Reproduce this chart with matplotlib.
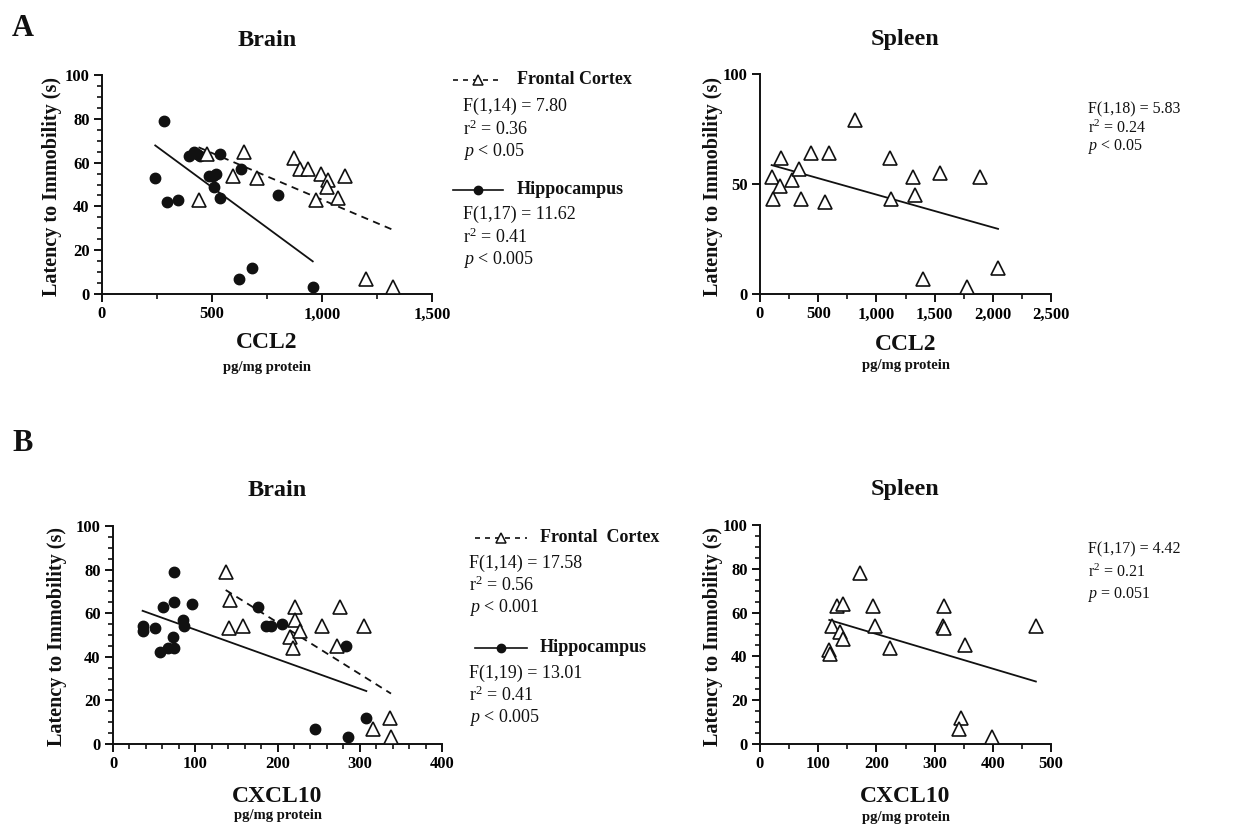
import matplotlib.pyplot as plt
import numpy as np
from matplotlib.lines import Line2D
from matplotlib.ticker import MultipleLocator, StrMethodFormatter

plt.rcParams.update({
    "font.family": "serif",
    "font.serif": ["Liberation Serif", "DejaVu Serif"],
    "mathtext.fontset": "custom",
    "mathtext.rm": "Liberation Serif",
    "mathtext.it": "Liberation Serif:italic",
    "mathtext.bf": "Liberation Serif:bold",
    "axes.linewidth": 1.4,
})

W, H = 1252, 826
INK = "#111111"

# CCL2, brain (A)
ccl2_fc_x = [439, 477, 594, 645, 705, 871, 898, 936, 997, 1027, 1023, 973, 1074, 1103, 1202, 1323]
ccl2_fc_y = [43, 64, 54, 65, 53, 62, 57, 57, 55, 52, 49, 43, 44, 54, 7, 3]
ccl2_hip_x = [242, 280, 295, 345, 397, 417, 432, 447, 485, 505, 520, 508, 538, 538, 632, 623, 682, 798, 958]
ccl2_hip_y = [53, 79, 42, 43, 63, 65, 64, 63, 54, 54, 55, 49, 64, 44, 57, 7, 12, 45, 3]
ccl2_fc_stats = ["F(1,14) = 7.80", "r$^2$ = 0.36", "$p$ < 0.05"]
ccl2_hip_stats = ["F(1,17) = 11.62", "r$^2$ = 0.41", "$p$ < 0.005"]

# CCL2, spleen (A)
ccl2_spl_x = [100, 115, 178, 172, 278, 335, 352, 435, 561, 593, 816, 1117, 1125,
              1317, 1335, 1547, 1893, 1403, 1776, 2045]
ccl2_spl_y = [53, 43, 62, 49, 52, 57, 43, 64, 42, 64, 79, 62, 43, 53, 45, 55, 53, 7, 3, 12]
ccl2_spl_stats = ["F(1,18) = 5.83", "r$^2$ = 0.24", "$p$ < 0.05"]

# CXCL10, brain (B)
cxcl10_fc_x = [137, 142, 141, 158, 221, 221, 215, 219, 227, 254, 272, 276, 305, 316, 337, 338]
cxcl10_fc_y = [79, 66, 53, 54, 63, 57, 49, 44, 52, 54, 45, 63, 54, 7, 12, 3]
cxcl10_hip_x = [36, 36, 51, 61, 57, 67, 74, 73, 74, 74, 85, 86, 96, 176, 186, 192, 206,
                283, 245, 286, 308]
cxcl10_hip_y = [54, 52, 53, 63, 42, 44, 44, 49, 65, 79, 57, 54, 64, 63, 54, 54, 55,
                45, 7, 3, 12]
cxcl10_fc_stats = ["F(1,14) = 17.58", "r$^2$ = 0.56", "$p$ < 0.001"]
cxcl10_hip_stats = ["F(1,19) = 13.01", "r$^2$ = 0.41", "$p$ < 0.005"]

# CXCL10, spleen (B)
cxcl10_spl_x = [119, 121, 123, 132, 142, 137, 142, 171, 195, 198, 223, 317, 314, 317,
                352, 345, 342, 399, 474]
cxcl10_spl_y = [43, 41, 54, 63, 64, 51, 48, 78, 63, 54, 44, 63, 54, 53, 45, 12, 7, 3, 54]
cxcl10_spl_stats = ["F(1,17) = 4.42", "r$^2$ = 0.21", "$p$ = 0.051"]


def fx(x):
    return x / W


def fy(y):
    return 1 - y / H


def make_axes(fig, left, top, right, bottom, xmax, xmaj, xmin, ymaj, ymin):
    ax = fig.add_axes([fx(left), fy(bottom), (right - left) / W, (bottom - top) / H])
    ax.set_xlim(0, xmax)
    ax.set_ylim(0, 100)
    for side in ("top", "right"):
        ax.spines[side].set_visible(False)
    for side in ("left", "bottom"):
        ax.spines[side].set_color(INK)
    ax.xaxis.set_major_locator(MultipleLocator(xmaj))
    ax.xaxis.set_minor_locator(MultipleLocator(xmin))
    ax.yaxis.set_major_locator(MultipleLocator(ymaj))
    if ymin:
        ax.yaxis.set_minor_locator(MultipleLocator(ymin))
    ax.xaxis.set_major_formatter(StrMethodFormatter("{x:,.0f}"))
    ax.tick_params(which="major", length=6, width=1.4, color=INK, labelsize=12, pad=3)
    ax.tick_params(which="minor", length=3.5, width=1.2, color=INK)
    for lab in ax.get_xticklabels() + ax.get_yticklabels():
        lab.set_fontweight("bold")
    ax.patch.set_alpha(0)
    return ax


def scatter(ax, x, y, kind):
    if kind == "tri":
        ax.plot(x, y, ls="none", marker="^", ms=9.5, mfc="white", mec=INK, mew=1.2,
                clip_on=False, zorder=3)
    else:
        ax.plot(x, y, ls="none", marker="o", ms=7.5, mfc=INK, mec=INK,
                clip_on=False, zorder=3)


def fit_line(ax, x, y, dashed):
    x = np.asarray(x, float)
    y = np.asarray(y, float)
    slope, icpt = np.polyfit(x, y, 1)
    xs = np.array([x.min(), x.max()])
    ls = (0, (4, 3)) if dashed else "-"
    ax.plot(xs, slope * xs + icpt, color=INK, lw=1.3, ls=ls, zorder=2)


def labels(fig, ax_left, ax_right, ylab_x, ylab_y, title_y, xl_y, unit_y, name, title):
    cx = fx((ax_left + ax_right) / 2)
    fig.text(cx, fy(title_y), title, ha="center", va="center", fontsize=17.5,
             fontweight="bold", color=INK)
    fig.text(fx(ylab_x), fy(ylab_y), "Latency to Immobility (s)", rotation=90,
             ha="center", va="center", fontsize=14.5, fontweight="bold", color=INK)
    fig.text(cx, fy(xl_y), name, ha="center", va="center", fontsize=17,
             fontweight="bold", color=INK)
    fig.text(cx, fy(unit_y), "pg/mg protein", ha="center", va="center", fontsize=10.5,
             fontweight="bold", color=INK)


def stats_block(fig, x, y0, step, lines, size=13):
    for i, s in enumerate(lines):
        fig.text(fx(x), fy(y0 + i * step), s, ha="left", va="center", fontsize=size,
                 color=INK)


def key(fig, x0, x1, y, kind, text, text_x):
    yy = fy(y)
    if kind == "tri":
        fig.add_artist(Line2D([fx(x0), fx(x1)], [yy, yy], transform=fig.transFigure,
                              color=INK, lw=1.2, ls=(0, (3, 3))))
        fig.add_artist(Line2D([fx((x0 + x1) / 2)], [yy], transform=fig.transFigure,
                              marker="^", ms=7, mfc="white", mec=INK, mew=1.1, ls="none"))
    else:
        fig.add_artist(Line2D([fx(x0), fx(x1)], [yy, yy], transform=fig.transFigure,
                              color=INK, lw=1.2))
        fig.add_artist(Line2D([fx((x0 + x1) / 2)], [yy], transform=fig.transFigure,
                              marker="o", ms=6, mfc=INK, mec=INK, ls="none"))
    fig.text(fx(text_x), yy, text, ha="left", va="center", fontsize=13,
             fontweight="bold", color=INK)


fig = plt.figure(figsize=(W / 100, H / 100), dpi=100)

fig.text(fx(12), fy(28), "A", ha="left", va="center", fontsize=22, fontweight="bold", color=INK)
fig.text(fx(12), fy(443), "B", ha="left", va="center", fontsize=22, fontweight="bold", color=INK)

# A, brain
ax = make_axes(fig, 102, 75, 432, 294, 1500, 500, 250, 20, 5)
scatter(ax, ccl2_hip_x, ccl2_hip_y, "dot")
scatter(ax, ccl2_fc_x, ccl2_fc_y, "tri")
fit_line(ax, ccl2_fc_x, ccl2_fc_y, True)
fit_line(ax, ccl2_hip_x, ccl2_hip_y, False)
labels(fig, 102, 432, 52, 187, 40, 342, 368, "CCL2", "Brain")
key(fig, 453, 503, 80, "tri", "Frontal Cortex", 517)
stats_block(fig, 463, 106, 23, ccl2_fc_stats)
key(fig, 453, 503, 190, "dot", "Hippocampus", 517)
stats_block(fig, 463, 214, 23, ccl2_hip_stats)

# A, spleen
ax = make_axes(fig, 760, 74, 1051, 294, 2500, 500, 250, 50, None)
scatter(ax, ccl2_spl_x, ccl2_spl_y, "tri")
fit_line(ax, ccl2_spl_x, ccl2_spl_y, False)
labels(fig, 760, 1051, 713, 187, 40, 345, 366, "CCL2", "Spleen")
stats_block(fig, 1088, 109, 19, ccl2_spl_stats, size=11.5)

# B, brain
ax = make_axes(fig, 113, 526, 442, 744, 400, 100, 20, 20, 5)
scatter(ax, cxcl10_hip_x, cxcl10_hip_y, "dot")
scatter(ax, cxcl10_fc_x, cxcl10_fc_y, "tri")
fit_line(ax, cxcl10_fc_x, cxcl10_fc_y, True)
fit_line(ax, cxcl10_hip_x, cxcl10_hip_y, False)
labels(fig, 113, 442, 57, 637, 490, 797, 816, "CXCL10", "Brain")
key(fig, 475, 527, 538, "tri", "Frontal  Cortex", 540)
stats_block(fig, 469, 563, 22, cxcl10_fc_stats)
key(fig, 475, 527, 648, "dot", "Hippocampus", 540)
stats_block(fig, 469, 673, 22, cxcl10_hip_stats)

# B, spleen
ax = make_axes(fig, 760, 525, 1051, 744, 500, 100, 50, 20, 5)
scatter(ax, cxcl10_spl_x, cxcl10_spl_y, "tri")
fit_line(ax, cxcl10_spl_x, cxcl10_spl_y, False)
labels(fig, 760, 1051, 713, 637, 490, 797, 817, "CXCL10", "Spleen")
stats_block(fig, 1088, 549, 23, cxcl10_spl_stats, size=11.5)

fig.savefig("out.png", dpi=100, facecolor="white")
